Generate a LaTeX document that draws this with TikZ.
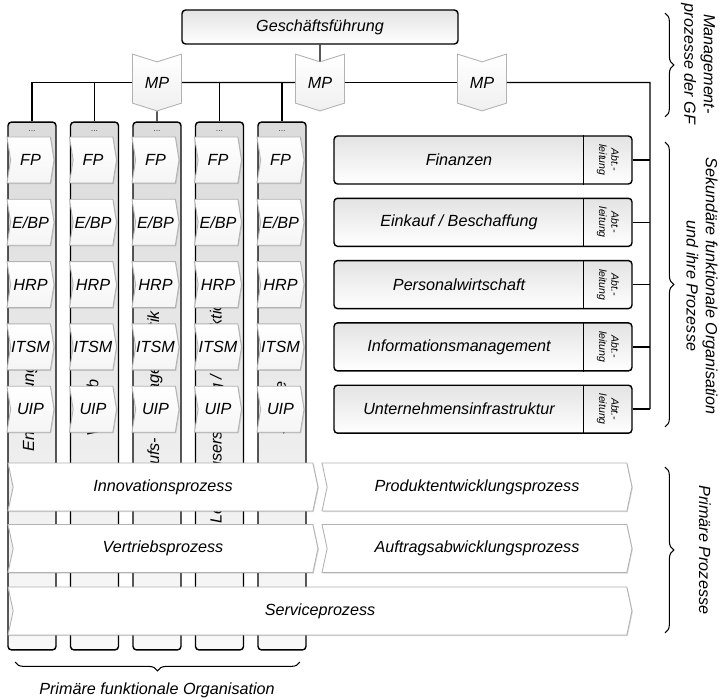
\documentclass[tikz,border=0pt]{standalone}
\usepackage{fontspec}
\setmainfont{Liberation Sans}
\usetikzlibrary{positioning, shapes.symbols, decorations.pathreplacing, shadows, calc}

\begin{document}
\begin{tikzpicture}[
    x=0.02cm, y=-0.02cm,
    font=\fontsize{9.2}{11}\selectfont\itshape,
    line width=0.8pt,
    column/.style={draw, rounded corners=2pt, minimum width=0.96cm,
                   minimum height=10.56cm, inner sep=0pt,
                   top color=gray!28, bottom color=gray!5},
    chev/.style={signal, signal to=east, signal from=west,
                 draw=gray!60, line width=0.5pt, inner sep=0pt,
                 drop shadow={shadow xshift=0.5pt, shadow yshift=-0.6pt,
                              opacity=0.3}},
    fpchev/.style={chev, signal pointer angle=162, minimum width=0.94cm,
                   minimum height=0.92cm, top color=white,
                   bottom color=gray!8},
    procchev/.style={chev, signal pointer angle=156, minimum height=0.96cm,
                     fill=white},
    mpshape/.style={signal, signal to=south, signal from=north,
                    signal pointer angle=145, draw=gray!60, line width=0.5pt,
                    minimum width=0.98cm, minimum height=0.98cm,
                    inner sep=0pt, top color=white, bottom color=gray!12},
    deptbox/.style={draw, rounded corners=2pt, minimum width=5.96cm,
                    minimum height=0.96cm, top color=gray!22,
                    bottom color=white},
    abtcell/.style={minimum width=0.96cm, minimum height=0.96cm,
                    inner sep=0pt},
    abttxt/.style={rotate=-90, align=center, inner sep=0pt,
                   font=\fontsize{6}{7}\selectfont\itshape},
    sidelabel/.style={rotate=-90, align=center},
    brc/.style={decorate, decoration={brace, amplitude=5pt},
                line width=0.6pt}
  ]
  \useasboundingbox (0,0) rectangle (725,700);

  \foreach \lbl [count=\i from 0] in {Entwicklung, Vertrieb,
      Einkaufs- und Lagerlogistik, Leistungserstellung / Produktion,
      Service} {
    \node[column] (col\i) at (32+62.5*\i, 386) {};
    \node[rotate=90] (coltxt\i) at (30+62.5*\i, 408) {\lbl};
    \node[font=\tiny, text=gray!50!black] (dots\i) at (32+62.5*\i, 131)
      {...};
    \foreach \p [count=\j from 0] in {FP, E/BP, HRP, ITSM, UIP}
      \node[fpchev] (p\i\j) at (30.5+62.5*\i, 160+62.3*\j) {\p};
  }

  \node[procchev, minimum width=6.2cm] (innov) at (163, 487)
    {Innovationsprozess};
  \node[procchev, minimum width=6.2cm] (prodent) at (477, 487)
    {Produktentwicklungsprozess};
  \node[procchev, minimum width=6.2cm] (vertrieb) at (163, 548.5)
    {Vertriebsprozess};
  \node[procchev, minimum width=6.2cm] (auftrag) at (477, 548.5)
    {Auftragsabwicklungsprozess};
  \node[procchev, minimum width=12.48cm] (service) at (320, 611)
    {Serviceprozess};

  \foreach \dep [count=\j from 0] in {Finanzen, Einkauf / Beschaffung,
      Personalwirtschaft, Informationsmanagement,
      Unternehmensinfrastruktur} {
    \node[deptbox] (dept\j) at (483, 160+62.3*\j) {};
    \node (deptlbl\j) at (459, 160+62.3*\j) {\dep};
    \node[abtcell] (abt\j) at (608, 160+62.3*\j) {};
    \node[abttxt] (abttxt\j) at (abt\j) {Abt.-\\leitung};
    \draw (abt\j.north west) -- (abt\j.south west);
  }

  \node[deptbox, minimum width=5.52cm, minimum height=0.68cm] (gf)
    at (320, 27) {Geschäftsführung};

  \foreach \x [count=\k] in {157, 320, 482}
    \node[mpshape] (mp\k) at (\x, 82.5) {MP};

  \coordinate (busR) at (650, 82.5);
  \draw (gf.south) -- (mp2);
  \draw (col0.north) |- (mp1);
  \draw (mp1) -- (mp2);
  \draw (mp2) -- (mp3);
  \draw (mp3) -- (busR) -- (busR |- dept4.east);
  \draw (mp1) -- (col2.north);
  \foreach \i in {1,3,4}
    \draw (col\i.north) -- (col\i.north |- mp1);
  \foreach \j in {0,...,4}
    \draw (dept\j.east) -- (dept\j.east -| busR);

  \draw[brc] (665,13) -- (665,117);
  \node[sidelabel] (mgmtlbl) at (698,64) {Management-\\prozesse der GF};
  \draw[brc] (665,142) -- (665,427);
  \node[sidelabel] (seklbl) at (702,286)
    {Sekundäre funktionale Organisation\\und ihre Prozesse};
  \draw[brc] (665,467) -- (665,633);
  \node[sidelabel] (primlbl) at (705,550) {Primäre Prozesse};
  \draw[brc] (300,662) -- (15,662);
  \node (orglbl) at (157,690) {Primäre funktionale Organisation};
\end{tikzpicture}
\end{document}
